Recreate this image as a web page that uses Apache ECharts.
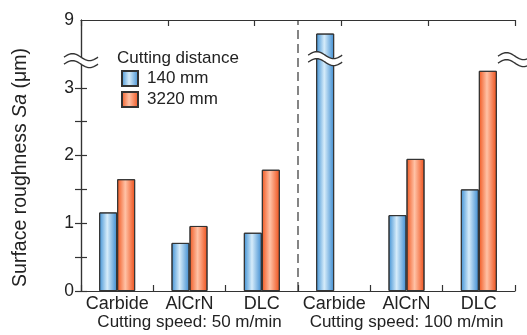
<!DOCTYPE html>
<html>
<head>
<meta charset="utf-8">
<script src="https://cdn.jsdelivr.net/npm/echarts@6/dist/echarts.min.js"></script>
<style>
  html, body { margin: 0; padding: 0; background: #fff; }
  #chart { width: 527px; height: 335px; }
</style>
</head>
<body>
<div id="chart"></div>
<script>
// 数据
const categories = ['Carbide', 'AlCrN', 'DLC', 'Carbide', 'AlCrN', 'DLC']
const groupNames = ['Cutting speed: 50 m/min', 'Cutting speed: 100 m/min']
const series140 = [1.16, 0.71, 0.86, 8.8, 1.12, 1.5]
const series3220 = [1.65, 0.96, 1.79, null, 1.95, 3.25]
const yTicks = [0, 0.5, 1, 1.5, 2, 2.5, 3]
const yLabels = [0, 1, 2, 3, 9]

// 断轴: 3.5 以上的值整体下移 5 (9 -> 4)
const SHIFT = 5
const toAxis = (v) => (v == null ? null : v > 3.5 ? v - SHIFT : v)
const fromAxis = (v) => (v > 3.5 ? v + SHIFT : v)
const BREAK_AT = 3.4

const font = '"Liberation Sans", Arial, Helvetica, sans-serif'
const ink = '#222'

const grad = (edge, mid, edge2) =>
  new echarts.graphic.LinearGradient(0, 0, 1, 0, [
    { offset: 0, color: edge },
    { offset: 0.45, color: mid },
    { offset: 1, color: edge2 },
  ])

const chart = echarts.init(document.getElementById('chart'))

const axisLine = { show: true, lineStyle: { color: '#333', width: 1.2 } }

const option = {
  animation: false,
  textStyle: { fontFamily: font, color: ink },
  grid: { left: 81, right: 12, top: 20, bottom: 44 },
  title: {
    text: 'Cutting distance',
    left: 112,
    top: 45,
    textStyle: { fontFamily: font, fontSize: 17, fontWeight: 'normal', color: ink },
  },
  legend: {
    orient: 'vertical',
    left: 116,
    top: 65,
    itemWidth: 16,
    itemHeight: 15,
    itemGap: 4,
    icon: 'rect',
    textStyle: { fontFamily: font, fontSize: 17, color: ink, lineHeight: 17, padding: [0, 0, 0, 4] },
    data: ['140 mm', '3220 mm'],
  },
  xAxis: [
    {
      type: 'category',
      data: categories,
      position: 'bottom',
      axisLine: axisLine,
      axisTick: { show: true, inside: true, length: 6, interval: 0, lineStyle: { color: '#333', width: 1.2 } },
      axisLabel: { fontFamily: font, fontSize: 18, color: ink, margin: 4, interval: 0 },
    },
    {
      type: 'category',
      data: groupNames,
      position: 'bottom',
      offset: 19,
      axisLine: { show: false },
      axisTick: { show: false },
      axisLabel: { fontFamily: font, fontSize: 17, color: ink, margin: 4, interval: 0 },
    },
    {
      type: 'value',
      position: 'top',
      min: 0,
      max: 5,
      interval: 1,
      axisLine: axisLine,
      axisTick: { show: true, inside: true, length: 6, lineStyle: { color: '#333', width: 1.2 } },
      axisLabel: { show: false },
      splitLine: { show: false },
    },
    {
      type: 'value',
      min: 0,
      max: 6,
      show: false,
    },
  ],
  yAxis: [
    {
      type: 'value',
      min: 0,
      max: 4,
      interval: 0.5,
      position: 'left',
      name: '{a|Surface roughness }{b|Sa}{a| (μm)}',
      nameLocation: 'middle',
      nameGap: 50,
      nameTextStyle: {
        padding: [0, 24, 0, 0],
        rich: {
          a: { fontFamily: font, fontSize: 19.5, color: ink },
          b: { fontFamily: font, fontSize: 19.5, color: ink, fontStyle: 'italic' },
        },
      },
      axisLine: axisLine,
      axisTick: {
        show: true,
        inside: true,
        length: 6,
        customValues: yTicks,
        lineStyle: { color: '#333', width: 1.2 },
      },
      axisLabel: {
        fontFamily: font,
        fontSize: 17.5,
        color: ink,
        margin: 7,
        customValues: yLabels.map(toAxis),
        formatter: (v) => String(Math.round(fromAxis(v))),
      },
      splitLine: { show: false },
    },
    {
      type: 'value',
      min: 0,
      max: 4,
      interval: 0.5,
      position: 'right',
      axisLine: axisLine,
      axisTick: {
        show: true,
        inside: true,
        length: 6,
        customValues: yTicks,
        lineStyle: { color: '#333', width: 1.2 },
      },
      axisLabel: { show: false },
      splitLine: { show: false },
    },
  ],
  series: [
    {
      name: '140 mm',
      type: 'bar',
      xAxisIndex: 0,
      yAxisIndex: 0,
      barWidth: 18,
      barGap: '0%',
      data: series140.map(toAxis),
      itemStyle: {
        color: grad('#3d8fd3', '#d6ecfa', '#3a8ad0'),
        borderColor: '#333',
        borderWidth: 1,
      },
    },
    {
      name: '3220 mm',
      type: 'bar',
      xAxisIndex: 0,
      yAxisIndex: 0,
      barWidth: 18,
      barGap: '0%',
      data: series3220.map(toAxis),
      itemStyle: {
        color: grad('#f0561f', '#ffc2a6', '#ee4e18'),
        borderColor: '#333',
        borderWidth: 1,
      },
    },
    {
      name: 'divider',
      type: 'line',
      xAxisIndex: 3,
      yAxisIndex: 0,
      data: [[3, 0], [3, 4]],
      symbol: 'none',
      silent: true,
      lineStyle: { color: '#333', width: 1.2, type: [9, 5] },
    },
  ],
}

chart.setOption(option)

// 断轴符号 (≈)
function breakMark(cx, cy, w) {
  const pts = (dy) => {
    const arr = []
    for (let i = 0; i <= 24; i++) {
      const t = i / 24
      arr.push([cx - w / 2 + t * w, cy + dy - 3.5 * Math.sin(2 * Math.PI * t)])
    }
    return arr
  }
  const top = pts(-3.5)
  const bot = pts(3.5)
  return [
    { type: 'polygon', shape: { points: top.concat(bot.slice().reverse()) }, style: { fill: '#fff' }, z: 100 },
    { type: 'polyline', shape: { points: top }, style: { stroke: '#333', lineWidth: 1.4, fill: null }, z: 101 },
    { type: 'polyline', shape: { points: bot }, style: { stroke: '#333', lineWidth: 1.4, fill: null }, z: 101 },
  ]
}

const yBreak = chart.convertToPixel({ yAxisIndex: 0 }, BREAK_AT)
const xLeft = chart.convertToPixel({ xAxisIndex: 2 }, 0)
const xRight = chart.convertToPixel({ xAxisIndex: 2 }, 5)
const xBar = chart.convertToPixel({ xAxisIndex: 0 }, 3) - 9

chart.setOption({
  graphic: [].concat(
    breakMark(xLeft, yBreak, 34),
    breakMark(xRight, yBreak - 1, 34),
    breakMark(xBar, yBreak - 2, 34)
  ),
})
</script>
</body>
</html>
